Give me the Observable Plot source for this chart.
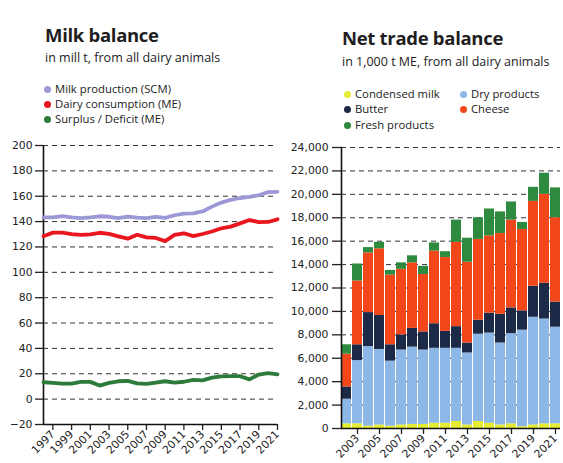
<!DOCTYPE html>
<html><head><meta charset="utf-8">
<script src="https://cdn.jsdelivr.net/npm/d3@7"></script>
<script src="https://cdn.jsdelivr.net/npm/@observablehq/plot@0.6"></script>
<style>
body{margin:0;background:#fff;}
#wrap{position:relative;width:563px;height:463px;overflow:hidden;font-family:"Open Sans",sans-serif;color:#222;background:#fff;}
.t{position:absolute;white-space:nowrap;line-height:1;}
.title{font-weight:700;font-size:18.5px;letter-spacing:-0.3px;color:#1e1e1e;}
.sub{font-size:12.5px;}
.lg{font-size:11.3px;}
.dot{display:inline-block;width:7px;height:7px;border-radius:50%;margin-right:4px;vertical-align:0px;}
.chart{position:absolute;}
</style></head><body><div id="wrap"></div>
<script>
// ---- Milk balance (left) ----
const milkYears = [1996,1997,1998,1999,2000,2001,2002,2003,2004,2005,2006,2007,2008,2009,2010,2011,2012,2013,2014,2015,2016,2017,2018,2019,2020,2021];
const milkProduction = [143.3,143.3,144.3,143.3,142.8,143.3,144.2,143.8,142.8,143.9,143.2,142.8,143.8,142.9,145,146.3,146.5,148,151.8,155,157.2,158.6,159.5,160.8,163.2,163.5];
const dairyConsumption = [128.5,131.3,131.3,130.2,129.5,130,131.2,130.3,128.4,126.5,129.6,127.6,127.1,124.6,129.5,130.8,128.5,130.2,132.2,134.7,136,138.6,141.2,139.6,139.7,141.8];
const surplus = [13.3,12.8,12.3,12.3,13.6,13.6,10.7,12.8,14.1,14.4,12.4,12,13.1,14.1,13.1,13.7,15.2,14.8,17,18,18.1,18.1,15.6,19.4,20.5,19.6];
const milkSeries = ["Milk production (SCM)","Dairy consumption (ME)","Surplus / Deficit (ME)"];
const milkColors = ["#9d98d6","#e8161f","#2c7b3a"];
const milkYTicks = [-20,0,20,40,60,80,100,120,140,160,180,200];
const milkXTicks = [1997,1999,2001,2003,2005,2007,2009,2011,2013,2015,2017,2019,2021];

// ---- Net trade balance (right) ----
const tradeYears = [2002,2003,2004,2005,2006,2007,2008,2009,2010,2011,2012,2013,2014,2015,2016,2017,2018,2019,2020,2021];
const condensedMilk = [400,400,200,300,200,300,350,350,450,450,600,300,600,450,300,400,150,300,400,400];
const dryProducts  = [2100,5400,6800,6450,5550,6400,6600,6350,6400,6400,6250,6150,7450,7700,7000,7700,8250,9200,8950,8250];
const butter       = [1050,1350,2900,2900,1400,1300,1600,1550,2100,1450,1850,850,1200,1700,2450,2200,1650,2650,3050,2150];
const cheese       = [2800,5450,5100,5700,5950,5600,5600,4900,6200,6300,7200,6900,6900,6600,6900,7500,6950,7250,7600,7200];
const freshProducts= [800,1450,450,550,400,550,600,700,700,500,1900,2050,1850,2300,1850,1550,600,1200,1800,2550];
const tradeSeries = ["Condensed milk","Dry products","Butter","Cheese","Fresh products"];
const tradeColors = ["#e6ec30","#8cb7e6","#1c2a48","#f2461b","#2e8a3e"];
const tradeYTicks = [0,2000,4000,6000,8000,10000,12000,14000,16000,18000,20000,22000,24000];
const tradeXTicks = [2003,2005,2007,2009,2011,2013,2015,2017,2019,2021];

const wrap = document.getElementById("wrap");
function addText(cls, html, left, top){
  const d = document.createElement("div");
  d.className = "t " + cls; d.innerHTML = html;
  d.style.left = left + "px"; d.style.top = top + "px";
  wrap.appendChild(d);
}
function item(label, color){ return `<span class="dot" style="background:${color}"></span>${label}`; }

// Titles and legends
addText("title","Milk balance",45,26);
addText("sub","in mill t, from all dairy animals",45,52);
milkSeries.forEach((s,i)=>addText("lg", item(s, milkColors[i]), 44, 83 + i*15));

addText("title","Net trade balance",342,29);
addText("sub","in 1,000 t ME, from all dairy animals",342,56);
addText("lg", item(tradeSeries[0], tradeColors[0]), 344, 88);
addText("lg", item(tradeSeries[1], tradeColors[1]), 460, 88);
addText("lg", item(tradeSeries[2], tradeColors[2]), 344, 103);
addText("lg", item(tradeSeries[3], tradeColors[3]), 460, 103);
addText("lg", item(tradeSeries[4], tradeColors[4]), 344, 119);

// Left chart data
const milkData = [];
[milkProduction, dairyConsumption, surplus].forEach((arr, k) => {
  arr.forEach((v, i) => milkData.push({year: milkYears[i], value: v, series: milkSeries[k]}));
});

const left = Plot.plot({
  width: 285, height: 333,
  marginLeft: 43, marginRight: 8, marginTop: 15, marginBottom: 39,
  style: {fontFamily: "DejaVu Sans, sans-serif", fontSize: "10.8px", color: "#222", background: "transparent"},
  x: {domain: [milkYears[0], milkYears[milkYears.length-1]]},
  y: {domain: [-20, 200]},
  color: {domain: milkSeries, range: milkColors},
  marks: [
    Plot.gridY(milkYTicks.filter(d => d >= 0), {stroke: "#333", strokeOpacity: 1, strokeDasharray: "5,4", strokeWidth: 1}),
    Plot.axisY({ticks: milkYTicks, tickSize: 8, tickPadding: 3, label: null, strokeWidth: 1.3}),
    Plot.axisX({ticks: milkXTicks, tickFormat: d => String(d), tickRotate: -45, tickSize: 6, tickPadding: 2, label: null, strokeWidth: 1.3}),
    Plot.ruleX([milkYears[0]], {stroke: "#111", strokeWidth: 1.6}),
    Plot.ruleY([-20], {stroke: "#111", strokeWidth: 1.6}),
    Plot.line(milkData, {x: "year", y: "value", z: "series", stroke: "series", strokeWidth: 3.8})
  ]
});
left.classList.add("chart"); left.style.left = "0px"; left.style.top = "130px";
wrap.appendChild(left);

// Right chart data
const tradeData = [];
[condensedMilk, dryProducts, butter, cheese, freshProducts].forEach((arr, k) => {
  arr.forEach((v, i) => tradeData.push({year: tradeYears[i], value: v, type: tradeSeries[k]}));
});

const right = Plot.plot({
  width: 283, height: 333,
  marginLeft: 61, marginRight: 3, marginTop: 17, marginBottom: 35,
  style: {fontFamily: "DejaVu Sans, sans-serif", fontSize: "10.8px", color: "#222", background: "transparent"},
  x: {type: "band", domain: tradeYears, paddingInner: 0.1, paddingOuter: 0, align: 0},
  y: {domain: [0, 24000]},
  color: {domain: tradeSeries, range: tradeColors},
  marks: [
    Plot.gridY(tradeYTicks.filter(d => d > 0), {stroke: "#333", strokeOpacity: 1, strokeDasharray: "5,4", strokeWidth: 1}),
    Plot.barY(tradeData, {x: "year", y: "value", fill: "type", order: tradeSeries}),
    Plot.axisY({ticks: tradeYTicks, tickFormat: d3.format(","), tickSize: 9, tickPadding: 4, label: null, strokeWidth: 1.3}),
    Plot.axisX({ticks: tradeXTicks, tickFormat: d => String(d), tickRotate: -45, tickSize: 6, tickPadding: 2, label: null, strokeWidth: 1.3}),
    Plot.ruleY([0], {stroke: "#111", strokeWidth: 1.6}),
    Plot.frame({anchor: "left", stroke: "#111", strokeWidth: 1.6})
  ]
});
right.classList.add("chart"); right.style.left = "280px"; right.style.top = "130px";
wrap.appendChild(right);
</script>
</body></html>
